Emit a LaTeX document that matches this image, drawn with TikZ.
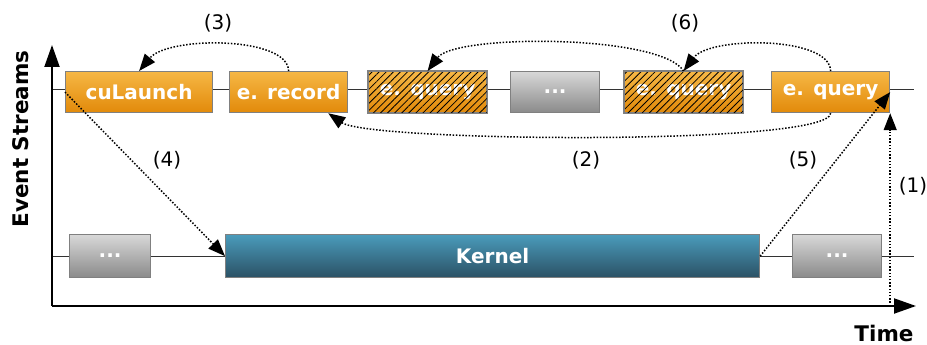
\documentclass[tikz,border=0pt]{standalone}
\usepackage{fontspec}
\setmainfont{DejaVu Sans}
\usetikzlibrary{arrows.meta,patterns.meta}
\definecolor{orT}{HTML}{F6B745}
\definecolor{orB}{HTML}{E28A0A}
\definecolor{grT}{HTML}{D8D8D8}
\definecolor{grB}{HTML}{8A8A8A}
\definecolor{kT}{HTML}{4A9BBB}
\definecolor{kB}{HTML}{2B5165}
\definecolor{bord}{HTML}{808080}
\definecolor{strm}{HTML}{333333}
\begin{document}
\begin{tikzpicture}[x=1pt,y=-1pt,
  box/.style={draw=bord,line width=1.2pt,inner sep=0pt,anchor=north west,text=white,font=\fontsize{20}{24}\selectfont\bfseries,minimum height=41pt},
  obox/.style={box,top color=orT,bottom color=orB},
  gbox/.style={box,top color=grT,bottom color=grB},
  kbox/.style={box,top color=kT,bottom color=kB},
  hatch/.style={pattern={Lines[angle=45,distance=5pt,line width=0.8pt]}},
  stream/.style={strm,line width=1pt},
  axis/.style={black,line width=2pt,-{Triangle[length=22pt,width=15pt]}},
  link/.style={black,line width=1.5pt,dash pattern=on 1.5pt off 1.7pt,-{Triangle[length=17pt,width=13pt]}},
  lbl/.style={font=\fontsize{20}{24}\selectfont,inner sep=0pt},
  ttl/.style={font=\fontsize{21.5}{26}\selectfont\bfseries,inner sep=0pt}
]
\useasboundingbox (0,0) rectangle (927,345);
% stream lines
\coordinate (s1a) at (52,90);
\coordinate (s1b) at (914,90);
\coordinate (s2a) at (52,256);
\coordinate (s2b) at (914,256);
\draw[stream] (s1a) -- (s1b);
\draw[stream] (s2a) -- (s2b);
% axes
\coordinate (O) at (52,306);
\coordinate (ytip) at (52,45);
\coordinate (xtip) at (916,306);
\draw[axis] (O) -- (ytip);
\draw[axis] (O) -- (xtip);
\node[ttl,rotate=90] (ylab) at (21,139) {Event Streams};
\node[ttl,anchor=base] (xlab) at (884,341) {Time};
% top stream boxes
\node[obox,minimum width=147pt] (cul) at (65,71) {cuLaunch};
\node[obox,minimum width=118pt] (rec) at (229,71) {e. record};
\node[obox,minimum width=118pt] (h1) at (368,71) {e. query};
\fill[hatch] (h1.south west) rectangle (h1.north east);
\draw[bord,line width=1.2pt] (h1.south west) rectangle (h1.north east);
\node[gbox,minimum width=89pt] (d1) at (510,71) {...};
\node[obox,minimum width=118pt] (h2) at (624,71) {e. query};
\fill[hatch] (h2.south west) rectangle (h2.north east);
\draw[bord,line width=1.2pt] (h2.south west) rectangle (h2.north east);
\node[obox,minimum width=118pt] (q3) at (771,71) {e. query};
% bottom stream boxes
\node[gbox,minimum width=81pt,minimum height=43pt] (d2) at (69,234) {...};
\node[kbox,minimum width=534pt,minimum height=43pt] (ker) at (225,234) {Kernel};
\node[gbox,minimum width=89pt,minimum height=43pt] (d3) at (792,234) {...};
% connectors
\draw[link] (rec.north) .. controls (288,36) and (168,36) .. (cul.north);
\draw[link] (q3.north) .. controls (830,36) and (710,36) .. (h2.north);
\draw[link] (h2.north) .. controls (660,34) and (455,34) .. (h1.north);
\draw[link] (q3.south) .. controls (830,146) and (370,142) .. ([xshift=-20pt]rec.south east);
\draw[link] (cul.west) -- (ker.west);
\draw[link] (ker.east) -- (q3.east);
\coordinate (t1) at (q3.south east |- O);
\draw[link] (t1) -- (q3.south east);
% labels
\node[lbl] (l3) at (218,23) {(3)};
\node[lbl] (l6) at (685,23) {(6)};
\node[lbl] (l4) at (167,160) {(4)};
\node[lbl] (l2) at (586,160) {(2)};
\node[lbl] (l5) at (803,160) {(5)};
\node[lbl] (l1) at (913,186) {(1)};
\end{tikzpicture}
\end{document}
